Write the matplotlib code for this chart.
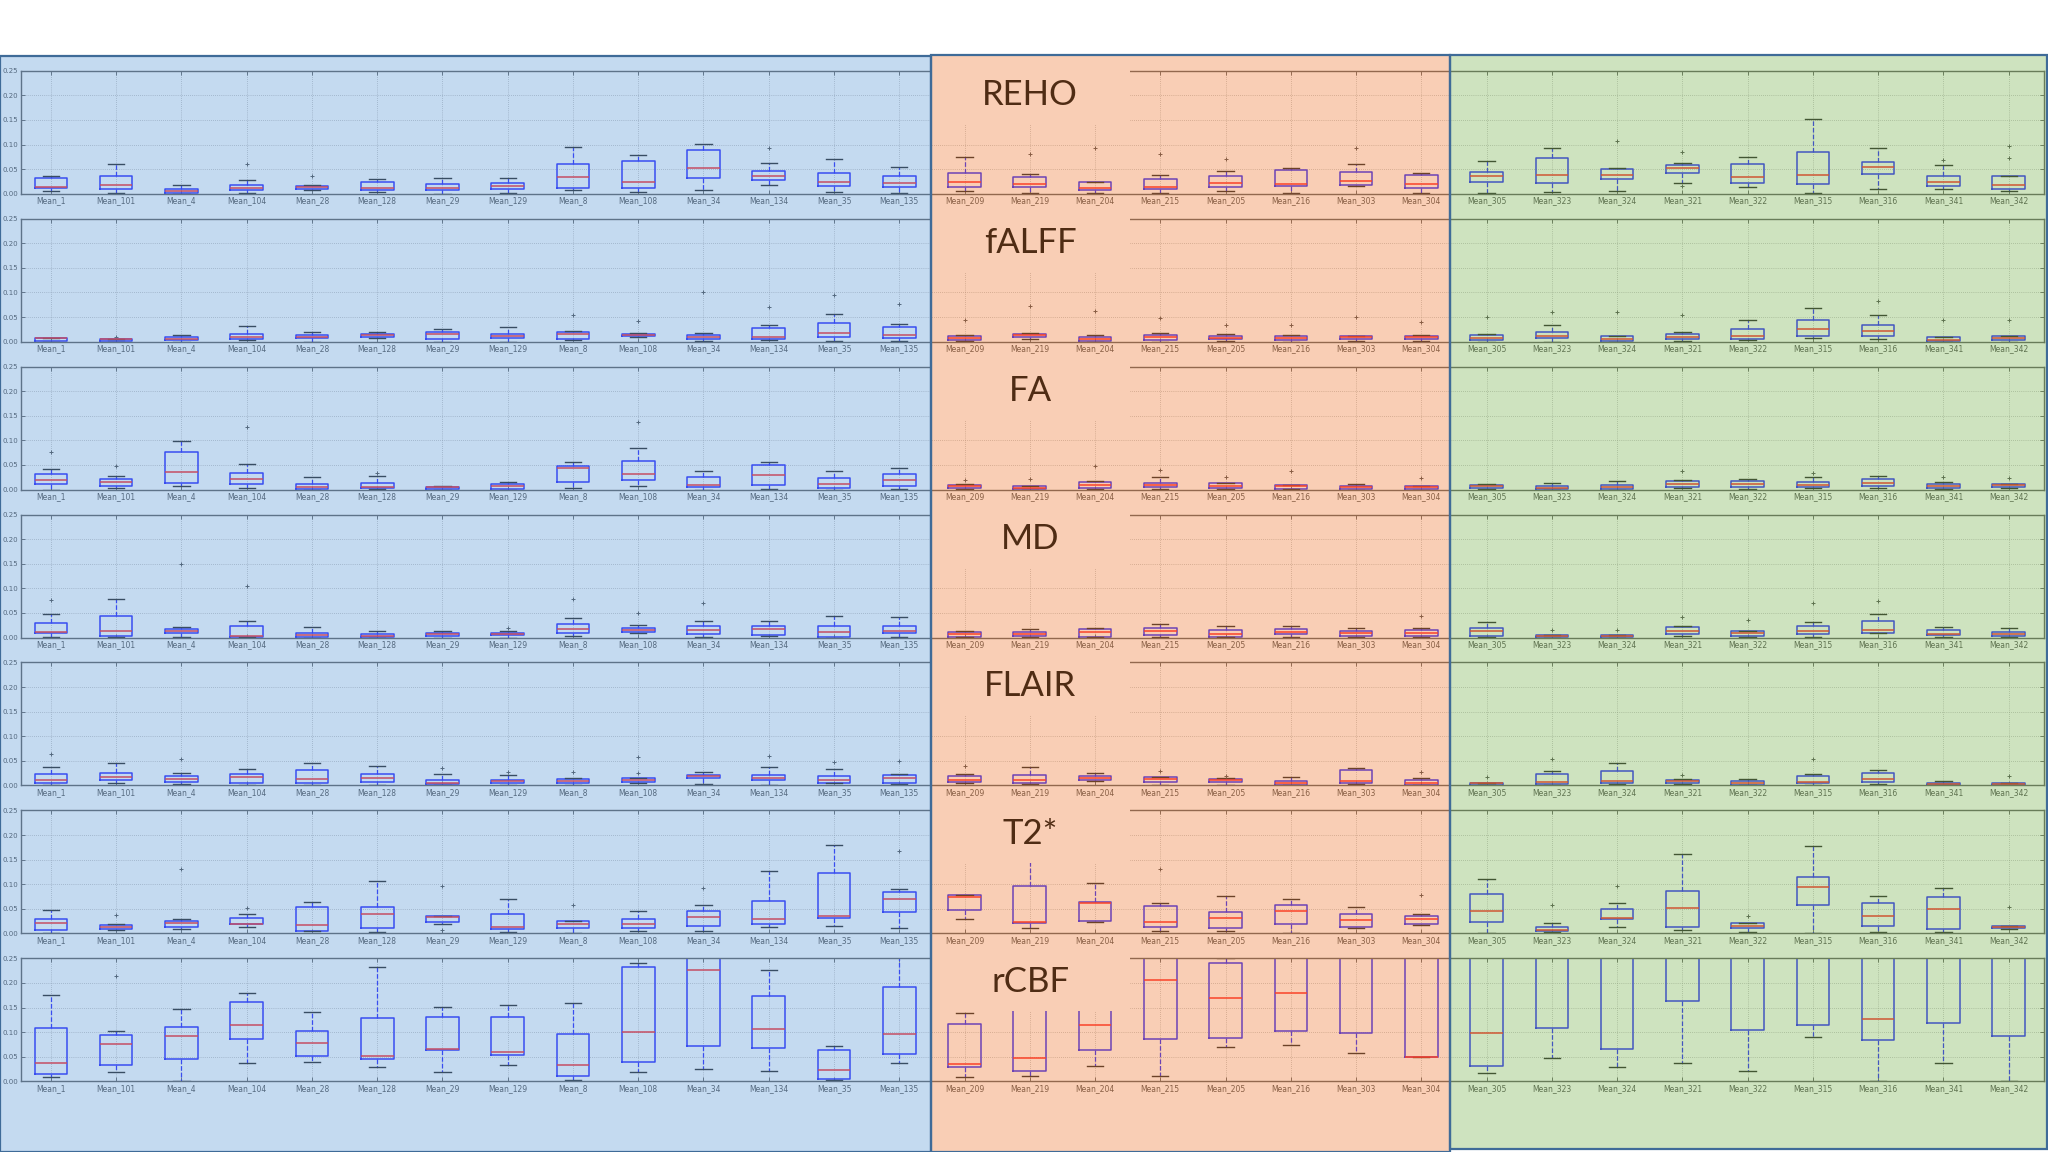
import matplotlib
matplotlib.use("Agg")
import matplotlib.pyplot as plt
from matplotlib.patches import Rectangle

# region names (x tick labels), blue / orange / green groups
names = ["Mean_1", "Mean_101", "Mean_4", "Mean_104", "Mean_28", "Mean_128", "Mean_29",
         "Mean_129", "Mean_8", "Mean_108", "Mean_34", "Mean_134", "Mean_35", "Mean_135",
         "Mean_209", "Mean_219", "Mean_204", "Mean_215", "Mean_205", "Mean_216", "Mean_303",
         "Mean_304",
         "Mean_305", "Mean_323", "Mean_324", "Mean_321", "Mean_322", "Mean_315", "Mean_316",
         "Mean_341", "Mean_342"]
measures = ["REHO", "fALFF", "FA", "MD", "FLAIR", "T2*", "rCBF"]

# box stats per region: (whisker low, q1, median, q3, whisker high)
reho = [(0.005, 0.011, 0.013, 0.031, 0.035), (0.002, 0.010, 0.018, 0.035, 0.060),
        (0.000, 0.001, 0.005, 0.010, 0.018), (0.001, 0.008, 0.012, 0.018, 0.027),
        (0.007, 0.010, 0.013, 0.015, 0.018), (0.004, 0.007, 0.012, 0.024, 0.030),
        (0.000, 0.007, 0.012, 0.020, 0.031), (0.001, 0.010, 0.016, 0.022, 0.031),
        (0.007, 0.012, 0.034, 0.060, 0.095), (0.004, 0.012, 0.024, 0.066, 0.078),
        (0.007, 0.032, 0.052, 0.088, 0.102), (0.018, 0.028, 0.035, 0.047, 0.063),
        (0.003, 0.015, 0.023, 0.043, 0.071), (0.002, 0.014, 0.022, 0.035, 0.055),
        (0.006, 0.014, 0.024, 0.043, 0.075), (0.001, 0.013, 0.020, 0.033, 0.041),
        (0.001, 0.007, 0.012, 0.024, 0.024), (0.002, 0.009, 0.014, 0.029, 0.039),
        (0.005, 0.014, 0.022, 0.035, 0.046), (0.002, 0.016, 0.020, 0.049, 0.053),
        (0.015, 0.018, 0.026, 0.045, 0.060), (0.002, 0.011, 0.020, 0.037, 0.043),
        (0.001, 0.024, 0.035, 0.045, 0.067), (0.004, 0.022, 0.039, 0.072, 0.092),
        (0.006, 0.029, 0.039, 0.051, 0.052), (0.022, 0.043, 0.053, 0.058, 0.062),
        (0.014, 0.021, 0.033, 0.060, 0.075), (0.002, 0.019, 0.038, 0.085, 0.152),
        (0.010, 0.041, 0.055, 0.065, 0.092), (0.009, 0.016, 0.024, 0.035, 0.058),
        (0.005, 0.010, 0.018, 0.035, 0.035)]
reho_out = {3: [0.061], 4: [0.036], 11: [0.092], 15: [0.081], 16: [0.092], 17: [0.081],
            18: [0.071], 20: [0.092], 24: [0.107], 25: [0.085, 0.015], 29: [0.068],
            30: [0.073, 0.097]}

falff = [(0.000, 0.001, 0.007, 0.008, 0.008), (0.000, 0.002, 0.005, 0.006, 0.006),
         (0.000, 0.003, 0.006, 0.010, 0.014), (0.003, 0.006, 0.010, 0.016, 0.031),
         (0.000, 0.007, 0.010, 0.013, 0.020), (0.008, 0.010, 0.014, 0.016, 0.020),
         (0.000, 0.005, 0.016, 0.020, 0.026), (0.000, 0.007, 0.012, 0.016, 0.029),
         (0.003, 0.006, 0.015, 0.020, 0.022), (0.010, 0.012, 0.014, 0.016, 0.017),
         (0.001, 0.005, 0.010, 0.014, 0.018), (0.003, 0.006, 0.010, 0.027, 0.033),
         (0.001, 0.010, 0.018, 0.038, 0.057), (0.001, 0.008, 0.013, 0.029, 0.035),
         (0.001, 0.003, 0.008, 0.012, 0.014), (0.005, 0.009, 0.014, 0.016, 0.017),
         (0.000, 0.002, 0.006, 0.010, 0.014), (0.000, 0.003, 0.010, 0.014, 0.017),
         (0.002, 0.005, 0.008, 0.012, 0.016), (0.000, 0.003, 0.007, 0.011, 0.014),
         (0.001, 0.005, 0.009, 0.011, 0.012), (0.001, 0.005, 0.010, 0.012, 0.013),
         (0.000, 0.003, 0.008, 0.013, 0.016), (0.000, 0.007, 0.012, 0.020, 0.033),
         (0.000, 0.002, 0.005, 0.011, 0.012), (0.002, 0.005, 0.010, 0.016, 0.020),
         (0.003, 0.005, 0.011, 0.026, 0.044), (0.008, 0.012, 0.026, 0.043, 0.068),
         (0.006, 0.012, 0.022, 0.033, 0.054), (0.000, 0.002, 0.004, 0.010, 0.010),
         (0.000, 0.003, 0.007, 0.011, 0.012)]
falff_out = {1: [0.010], 8: [0.054], 9: [0.041], 10: [0.100], 11: [0.070], 12: [0.094],
             13: [0.076], 14: [0.044], 15: [0.073], 16: [0.062], 17: [0.049], 18: [0.033],
             19: [0.033], 20: [0.051], 21: [0.039], 22: [0.050], 23: [0.060], 24: [0.061],
             25: [0.054], 28: [0.082], 29: [0.045], 30: [0.045]}

fa = [(0.000, 0.011, 0.019, 0.031, 0.042), (0.003, 0.007, 0.016, 0.022, 0.027),
      (0.007, 0.013, 0.036, 0.077, 0.098), (0.003, 0.011, 0.022, 0.034, 0.052),
      (0.000, 0.001, 0.005, 0.012, 0.025), (0.001, 0.003, 0.006, 0.013, 0.028),
      (0.000, 0.001, 0.005, 0.006, 0.008), (0.000, 0.001, 0.007, 0.012, 0.016),
      (0.003, 0.015, 0.043, 0.047, 0.056), (0.007, 0.019, 0.032, 0.059, 0.085),
      (0.000, 0.005, 0.010, 0.026, 0.037), (0.002, 0.010, 0.030, 0.050, 0.057),
      (0.000, 0.004, 0.012, 0.024, 0.038), (0.001, 0.007, 0.019, 0.032, 0.044),
      (0.001, 0.003, 0.007, 0.010, 0.012), (0.000, 0.001, 0.003, 0.008, 0.008),
      (0.001, 0.003, 0.010, 0.016, 0.018), (0.001, 0.005, 0.009, 0.014, 0.026),
      (0.001, 0.003, 0.008, 0.013, 0.014), (0.001, 0.002, 0.008, 0.010, 0.010),
      (0.000, 0.001, 0.005, 0.008, 0.012), (0.000, 0.001, 0.006, 0.008, 0.008),
      (0.001, 0.003, 0.007, 0.010, 0.012), (0.000, 0.001, 0.004, 0.008, 0.014),
      (0.000, 0.001, 0.006, 0.010, 0.018), (0.003, 0.005, 0.012, 0.018, 0.020),
      (0.001, 0.005, 0.011, 0.017, 0.022), (0.003, 0.005, 0.009, 0.016, 0.025),
      (0.003, 0.008, 0.014, 0.022, 0.028), (0.001, 0.003, 0.007, 0.011, 0.016),
      (0.003, 0.005, 0.009, 0.012, 0.012)]
fa_out = {0: [0.076], 1: [0.048], 3: [0.127], 5: [0.034], 9: [0.138], 14: [0.019],
          15: [0.021], 16: [0.047], 17: [0.039], 18: [0.025], 19: [0.038], 21: [0.023],
          25: [0.037], 27: [0.034], 29: [0.025], 30: [0.024]}

md = [(0.002, 0.010, 0.012, 0.030, 0.047), (0.001, 0.004, 0.014, 0.043, 0.078),
      (0.002, 0.009, 0.014, 0.018, 0.022), (0.001, 0.001, 0.004, 0.024, 0.034),
      (0.000, 0.001, 0.005, 0.010, 0.022), (0.000, 0.001, 0.004, 0.007, 0.014),
      (0.000, 0.003, 0.007, 0.010, 0.014), (0.000, 0.005, 0.007, 0.010, 0.014),
      (0.004, 0.009, 0.018, 0.028, 0.039), (0.010, 0.011, 0.015, 0.020, 0.025),
      (0.001, 0.007, 0.016, 0.023, 0.033), (0.004, 0.005, 0.018, 0.024, 0.034),
      (0.000, 0.001, 0.012, 0.024, 0.044), (0.001, 0.009, 0.013, 0.024, 0.042),
      (0.001, 0.002, 0.008, 0.012, 0.014), (0.001, 0.003, 0.007, 0.011, 0.018),
      (0.001, 0.001, 0.012, 0.018, 0.019), (0.002, 0.005, 0.013, 0.019, 0.027),
      (0.001, 0.001, 0.008, 0.016, 0.024), (0.002, 0.007, 0.012, 0.018, 0.023),
      (0.001, 0.003, 0.009, 0.014, 0.020), (0.001, 0.004, 0.009, 0.016, 0.019),
      (0.001, 0.004, 0.014, 0.019, 0.032), (0.000, 0.001, 0.003, 0.006, 0.006),
      (0.000, 0.001, 0.003, 0.005, 0.005), (0.003, 0.008, 0.014, 0.021, 0.024),
      (0.001, 0.004, 0.009, 0.013, 0.014), (0.002, 0.007, 0.014, 0.023, 0.031),
      (0.010, 0.010, 0.016, 0.033, 0.047), (0.001, 0.005, 0.008, 0.016, 0.022),
      (0.001, 0.003, 0.008, 0.012, 0.020)]
md_out = {0: [0.076], 2: [0.149], 3: [0.105], 7: [0.020], 8: [0.079], 9: [0.050],
          10: [0.070], 21: [0.043], 23: [0.015], 24: [0.015], 25: [0.042], 26: [0.035],
          27: [0.071], 28: [0.075]}

flair = [(0.001, 0.005, 0.012, 0.024, 0.037), (0.005, 0.012, 0.018, 0.026, 0.045),
         (0.003, 0.008, 0.013, 0.020, 0.025), (0.001, 0.005, 0.018, 0.024, 0.033),
         (0.000, 0.005, 0.014, 0.031, 0.045), (0.001, 0.008, 0.016, 0.024, 0.039),
         (0.001, 0.002, 0.006, 0.012, 0.024), (0.001, 0.004, 0.009, 0.012, 0.022),
         (0.000, 0.004, 0.010, 0.013, 0.016), (0.004, 0.008, 0.011, 0.016, 0.016),
         (0.003, 0.015, 0.020, 0.022, 0.028), (0.001, 0.011, 0.016, 0.022, 0.037),
         (0.004, 0.005, 0.012, 0.020, 0.034), (0.003, 0.005, 0.016, 0.022, 0.024),
         (0.006, 0.008, 0.012, 0.019, 0.024), (0.002, 0.004, 0.011, 0.022, 0.038),
         (0.010, 0.012, 0.016, 0.020, 0.026), (0.001, 0.008, 0.014, 0.018, 0.018),
         (0.001, 0.008, 0.011, 0.014, 0.016), (0.000, 0.000, 0.005, 0.009, 0.017),
         (0.002, 0.004, 0.010, 0.031, 0.036), (0.001, 0.001, 0.004, 0.011, 0.015),
         (0.001, 0.001, 0.005, 0.006, 0.006), (0.001, 0.003, 0.007, 0.023, 0.029),
         (0.002, 0.006, 0.010, 0.029, 0.045), (0.002, 0.006, 0.009, 0.012, 0.013),
         (0.000, 0.001, 0.005, 0.010, 0.013), (0.001, 0.005, 0.008, 0.019, 0.023),
         (0.003, 0.008, 0.013, 0.026, 0.032), (0.000, 0.001, 0.003, 0.005, 0.010),
         (0.000, 0.001, 0.003, 0.004, 0.006)]
flair_out = {0: [0.063], 2: [0.054], 6: [0.036], 7: [0.028], 8: [0.027], 9: [0.026, 0.058],
             11: [0.060], 12: [0.048], 13: [0.049], 14: [0.040], 17: [0.029], 18: [0.020],
             21: [0.027], 22: [0.018], 23: [0.054], 25: [0.022], 27: [0.054], 30: [0.020]}

t2s = [(0.000, 0.007, 0.022, 0.029, 0.047), (0.006, 0.009, 0.012, 0.017, 0.019),
       (0.008, 0.013, 0.021, 0.026, 0.029), (0.012, 0.019, 0.020, 0.032, 0.039),
       (0.004, 0.004, 0.017, 0.054, 0.064), (0.003, 0.010, 0.039, 0.053, 0.106),
       (0.020, 0.024, 0.033, 0.036, 0.036), (0.003, 0.008, 0.014, 0.040, 0.070),
       (0.001, 0.010, 0.019, 0.025, 0.026), (0.005, 0.011, 0.020, 0.029, 0.045),
       (0.004, 0.015, 0.034, 0.046, 0.057), (0.014, 0.020, 0.029, 0.066, 0.126),
       (0.015, 0.031, 0.036, 0.123, 0.179), (0.010, 0.043, 0.070, 0.085, 0.091),
       (0.030, 0.048, 0.073, 0.078, 0.078), (0.010, 0.022, 0.024, 0.096, 0.150),
       (0.024, 0.025, 0.062, 0.064, 0.103), (0.005, 0.014, 0.024, 0.055, 0.061),
       (0.005, 0.010, 0.032, 0.044, 0.076), (0.001, 0.020, 0.045, 0.057, 0.070),
       (0.011, 0.012, 0.027, 0.040, 0.053), (0.018, 0.020, 0.030, 0.036, 0.039),
       (0.001, 0.023, 0.045, 0.081, 0.110), (0.003, 0.004, 0.006, 0.014, 0.021),
       (0.012, 0.030, 0.032, 0.049, 0.062), (0.007, 0.014, 0.051, 0.087, 0.161),
       (0.002, 0.010, 0.016, 0.022, 0.022), (0.001, 0.057, 0.095, 0.115, 0.177),
       (0.003, 0.015, 0.035, 0.062, 0.076), (0.002, 0.009, 0.049, 0.073, 0.092),
       (0.008, 0.011, 0.014, 0.016, 0.016)]
t2s_out = {1: [0.038], 2: [0.130], 3: [0.052], 6: [0.096, 0.007], 8: [0.058], 10: [0.093],
           13: [0.168], 17: [0.130], 21: [0.078], 23: [0.057], 24: [0.096], 26: [0.036],
           30: [0.053]}

rcbf = [(0.008, 0.014, 0.037, 0.108, 0.176), (0.018, 0.033, 0.075, 0.095, 0.103),
        (0.000, 0.045, 0.093, 0.111, 0.148), (0.037, 0.087, 0.115, 0.161, 0.180),
        (0.040, 0.052, 0.077, 0.102, 0.141), (0.029, 0.046, 0.052, 0.129, 0.233),
        (0.019, 0.064, 0.066, 0.131, 0.152), (0.034, 0.054, 0.059, 0.131, 0.155),
        (0.003, 0.010, 0.034, 0.097, 0.160), (0.018, 0.040, 0.100, 0.233, 0.240),
        (0.026, 0.071, 0.226, 0.280, 0.320), (0.021, 0.067, 0.106, 0.173, 0.226),
        (0.003, 0.005, 0.024, 0.064, 0.072), (0.037, 0.055, 0.096, 0.192, 0.270),
        (0.008, 0.029, 0.035, 0.116, 0.139), (0.010, 0.022, 0.047, 0.170, 0.240),
        (0.031, 0.064, 0.115, 0.170, 0.220), (0.010, 0.086, 0.206, 0.280, 0.320),
        (0.070, 0.088, 0.169, 0.240, 0.250), (0.073, 0.103, 0.180, 0.280, 0.320),
        (0.058, 0.098, 0.270, 0.320, 0.380), (0.049, 0.049, 0.049, 0.320, 0.380),
        (0.016, 0.032, 0.098, 0.300, 0.360), (0.047, 0.108, 0.270, 0.320, 0.380),
        (0.029, 0.066, 0.270, 0.320, 0.380), (0.037, 0.164, 0.270, 0.320, 0.380),
        (0.021, 0.104, 0.270, 0.320, 0.380), (0.090, 0.114, 0.270, 0.320, 0.380),
        (0.000, 0.085, 0.127, 0.300, 0.360), (0.037, 0.118, 0.270, 0.320, 0.380),
        (0.001, 0.092, 0.270, 0.320, 0.380)]
rcbf_out = {1: [0.215]}

rows = [(reho, reho_out), (falff, falff_out), (fa, fa_out), (md, md_out),
        (flair, flair_out), (t2s, t2s_out), (rcbf, rcbf_out)]

# panel colours (as seen) and a see-through overlay that gives them over white
ALPHA = 0.45
panel_bg = ["#c5daf0", "#f9cfb5", "#cfe3c0"]
panel_x = [(0.0, 0.4547), (0.4547, 0.7079), (0.7079, 0.9995)]
panel_y = [(0.0, 0.9512), (0.0, 0.9524), (0.0023, 0.9524)]


def overlay_color(hexcol):
    rgb = matplotlib.colors.to_rgb(hexcol)
    return tuple(min(1, max(0, (c - (1 - ALPHA)) / ALPHA)) for c in rgb)


fig = plt.figure(figsize=(20.48, 11.52), dpi=100, facecolor="white")

ax_left, ax_w = 0.0102, 0.9878
ax_h = 123 / 1152
pitch = 147.94 / 1152
pos = list(range(1, len(names) + 1))

for i, (stats_in, outliers) in enumerate(rows):
    bottom = 1 - 193.7 / 1152 - i * pitch
    ax = fig.add_axes([ax_left, bottom, ax_w, ax_h], facecolor="white")
    stats = []
    for j, (lo, q1, med, q3, hi) in enumerate(stats_in):
        stats.append(dict(whislo=lo, q1=q1, med=med, q3=q3, whishi=hi,
                          fliers=outliers.get(j, [])))
    ax.bxp(stats, positions=pos, widths=0.5, manage_ticks=False,
           boxprops=dict(color="blue", lw=1.1),
           whiskerprops=dict(color="blue", ls="--", lw=0.9),
           capprops=dict(color="black", lw=1.0),
           medianprops=dict(color="red", lw=1.1),
           flierprops=dict(marker="+", markeredgecolor="#333333", markersize=3.5,
                           markeredgewidth=0.7))
    ax.set_xlim(0.54, 31.54)
    ax.set_ylim(0, 0.25)
    ax.set_xticks(pos)
    ax.set_xticklabels(names, fontsize=5.5, color="#222222")
    ax.set_yticks([0, 0.05, 0.10, 0.15, 0.20, 0.25])
    ax.set_yticklabels(["0.00", "0.05", "0.10", "0.15", "0.20", "0.25"],
                       fontsize=5, color="#222222")
    ax.tick_params(direction="in", length=3, width=0.6, top=True, right=True, pad=2,
                   colors="#333333")
    ax.grid(True, ls=(0, (1, 2)), color="#8a8a8a", lw=0.5)
    for s in ax.spines.values():
        s.set_color("#444444")
        s.set_linewidth(1.0)

    # opaque cover behind the measure name in the orange panel
    top = bottom + ax_h
    fig.add_artist(Rectangle((0.4547, top - 53 / 1152), 0.552 - 0.4547, 63 / 1152,
                             transform=fig.transFigure, facecolor="white",
                             edgecolor="none", zorder=3))
    fig.text(0.503, top - 24 / 1152, measures[i], fontsize=25, family="Lato",
             color="#4f2c14", ha="center", va="center", zorder=8)

for (x0, x1), (y0, y1), bg in zip(panel_x, panel_y, panel_bg):
    fig.add_artist(Rectangle((x0, y0), x1 - x0, y1 - y0, transform=fig.transFigure,
                             facecolor=overlay_color(bg), alpha=ALPHA,
                             edgecolor="none", zorder=5))
    fig.add_artist(Rectangle((x0, y0), x1 - x0, y1 - y0, transform=fig.transFigure,
                             facecolor="none", edgecolor="#3f6b98", lw=1.6, zorder=6))

fig.savefig("out.png", dpi=100, facecolor="white")
